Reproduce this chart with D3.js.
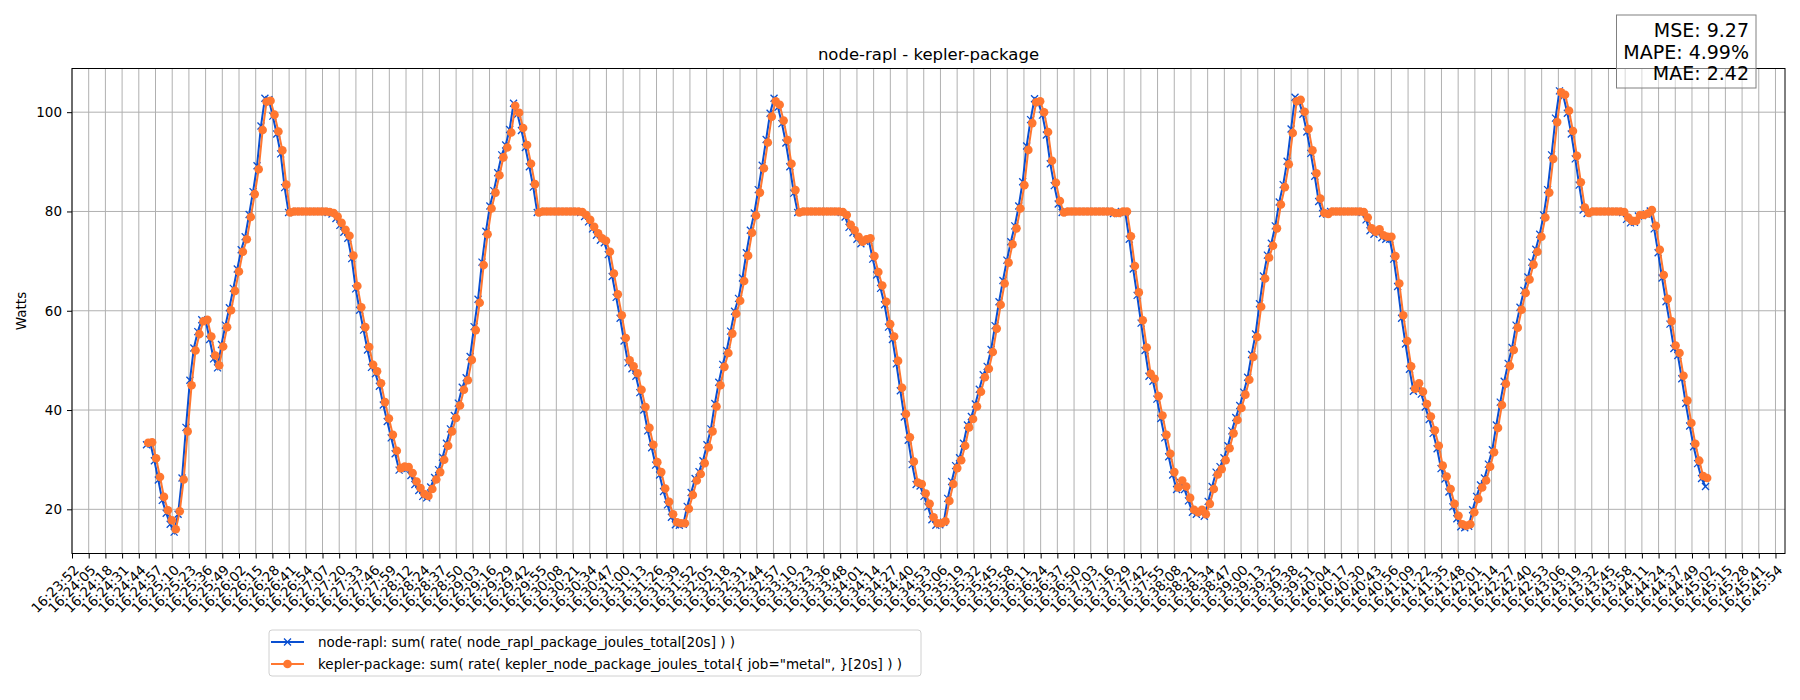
<!DOCTYPE html>
<html>
<head>
<meta charset="utf-8">
<script src="https://cdn.jsdelivr.net/npm/d3@7"></script>
<style>
  body { margin: 0; background: #fff; }
  text { font-family: "DejaVu Sans", sans-serif; }
</style>
</head>
<body>
<svg id="chart" width="1800" height="700"></svg>
<script>
// tick times: 103 labels from 16:23:52 to 16:45:54 (seconds after 16:23:00)
const tickStart = 52.78;
const tickStep = 12.961;
const tickCount = 103;

// sample timing (seconds after 16:23:00)
const sampleStart = 111.9;
const sampleStep = 3.063;
const raplLag = -1.3;

const keplerValues = [
  33.4, 33.5, 30.3, 26.5, 22.5, 19.8, 17.8, 16.0, 19.6, 26.0, 35.7, 45.0, 52.0, 55.3, 57.9, 58.2, 54.8, 51.0, 49.0, 52.8,
  56.7, 60.1, 64.0, 67.9, 71.9, 74.4, 78.9, 83.5, 88.5, 96.4, 102.1, 102.3, 99.5, 96.1, 92.3, 85.4, 79.8,
  80, 80, 80, 80, 80, 80, 80, 80, 80, 79.9,
  79.7, 79.0, 77.7, 76.3, 75.1, 71.1, 65.0, 60.7, 56.7, 52.7, 49.1, 47.8, 45.4, 41.6, 38.3, 35.0, 31.8, 28.3,
  28.6, 28.5, 27.3, 25.6, 24.3, 23.1, 22.7, 24.1, 26.0, 27.5, 30.0, 32.8, 35.7, 38.4, 40.9, 44.1, 46.0, 50.1, 56.1, 61.6,
  69.2, 75.4, 80.6, 83.8, 87.3, 90.9, 92.9, 95.9, 101.3, 99.9, 96.8, 93.4, 89.6, 85.5, 79.8,
  80, 80, 80, 80, 80, 80, 80, 80, 80, 80, 79.9,
  79.3, 78.3, 76.9, 75.6, 74.6, 74.1, 71.9, 67.5, 63.3, 59.1, 54.5, 50.0, 48.8, 47.4, 44.1, 40.6, 36.4, 33.0, 29.5,
  27.5, 24.2, 21.5, 19.0, 17.4, 17.2, 17.2, 20.1, 22.9, 25.8, 27.1, 29.3, 32.5, 35.7, 40.7, 45.0, 48.7, 51.5, 55.4, 59.4,
  62.0, 66.0, 71.1, 75.7, 79.2, 83.8, 88.7, 93.9, 99.1, 102.2, 101.5, 98.3, 94.4, 89.6, 84.3, 79.8,
  80, 80, 80, 80, 80, 80, 80, 80, 80, 80, 79.9,
  79.3, 77.3, 76.2, 74.9, 73.9, 74.4, 74.6, 71.0, 67.8, 65.1, 61.8, 57.3, 54.8, 49.9, 44.5, 39.2, 34.5, 29.6, 25.4, 25.1,
  23.2, 21.1, 18.4, 17.2, 17.2, 17.6, 21.7, 25.1, 28.3, 29.9, 32.8, 36.5, 38.2, 40.7, 43.7, 46.6, 48.3, 51.7, 56.4, 61.2,
  65.5, 69.7, 73.4, 76.6, 80.6, 85.3, 92.4, 97.8, 102.0, 102.2, 100.0, 96.0, 90.2, 85.8, 82.1, 79.8,
  80, 80, 80, 80, 80, 80, 80, 80, 80, 80, 80, 80, 79.7, 79.7, 80, 80,
  75.0, 69.0, 63.7, 58.1, 52.6, 47.3, 46.3, 42.8, 38.9, 35.0, 31.2, 27.5, 24.4, 25.8,
  24.6, 22.3, 19.9, 19.4, 19.9, 19.0, 21.1, 24.1, 27.0, 28.1, 29.9, 32.3, 35.3, 38.0, 40.4, 43.1, 46.1, 50.7, 54.7, 60.8,
  66.5, 70.7, 73.1, 76.6, 81.4, 84.9, 89.5, 95.8, 102.2, 102.5, 100.1, 96.6, 92.3, 87.7, 82.6, 79.7, 79.5,
  80, 80, 80, 80, 80, 80, 80, 80, 79.9,
  78.8, 76.6, 75.9, 76.4, 75.2, 74.9, 74.9, 71.0, 65.5, 59.1, 53.9, 48.8, 44.3, 45.4, 43.7, 41.2, 38.7, 35.9, 32.8, 28.8, 26.6,
  24.1, 21.1, 18.7, 17.0, 16.7, 17.0, 19.4, 22.1, 24.4, 25.8, 28.6, 31.5, 36.4, 41.0, 45.3, 48.9, 52.1, 56.6, 60.2, 63.6,
  66.3, 69.3, 71.9, 74.9, 78.8, 83.8, 90.6, 98.0, 104.0, 103.5, 100.3, 96.2, 91.2, 85.9, 80.8, 79.7,
  80, 80, 80, 80, 80, 80, 80, 80, 79.9,
  78.8, 78.1, 78.1, 79.3, 79.3, 79.6, 80.3, 77.1, 72.3, 67.2, 62.4, 57.9, 53.0, 51.5, 46.9, 41.9, 37.4, 33.2, 29.8, 26.7, 26.3
];

const raplValues = [
  33.0, 33.2, 29.8, 25.9, 21.8, 19.2, 17.0, 15.4, 19.0, 26.3, 36.5, 46.0, 52.5, 55.8, 58.2, 58.0, 54.2, 50.3, 48.5, 53.2,
  57.1, 60.6, 64.5, 68.4, 72.3, 74.9, 79.4, 84.0, 89.2, 97.2, 102.8, 102.5, 99.2, 95.6, 91.6, 84.8, 79.8,
  80, 80, 80, 80, 80, 80, 80, 80, 80, 79.8,
  79.5, 78.6, 77.2, 75.8, 74.6, 70.5, 64.4, 60.1, 56.1, 52.1, 48.6, 47.3, 44.8, 41.0, 37.7, 34.4, 31.2, 27.9,
  28.3, 28.2, 26.8, 25.0, 23.8, 22.6, 22.3, 24.5, 26.4, 28.0, 30.5, 33.3, 36.2, 38.9, 41.4, 44.6, 46.5, 50.8, 56.8, 62.3,
  69.8, 76.0, 81.1, 84.2, 87.8, 91.4, 93.4, 96.5, 101.8, 99.6, 96.3, 92.9, 89.0, 84.9, 79.8,
  80, 80, 80, 80, 80, 80, 80, 80, 80, 80, 79.8,
  79.0, 77.9, 76.5, 75.2, 74.2, 73.7, 71.3, 66.9, 62.7, 58.5, 53.9, 49.5, 48.3, 46.8, 43.5, 40.0, 35.8, 32.4, 28.9,
  26.9, 23.6, 20.9, 18.4, 16.9, 16.8, 17.0, 20.6, 23.4, 26.2, 27.6, 29.8, 33.0, 36.2, 41.3, 45.6, 49.2, 52.0, 55.9, 59.9,
  62.5, 66.6, 71.7, 76.2, 79.7, 84.4, 89.3, 94.5, 99.8, 102.8, 101.0, 97.7, 93.8, 89.0, 83.7, 79.8,
  80, 80, 80, 80, 80, 80, 80, 80, 80, 80, 79.8,
  78.9, 76.8, 75.7, 74.4, 73.5, 74.0, 74.2, 70.4, 67.2, 64.5, 61.2, 56.7, 54.2, 49.3, 43.9, 38.6, 33.9, 29.0, 25.0, 24.7,
  22.6, 20.5, 17.9, 16.8, 16.9, 17.4, 22.2, 25.6, 28.8, 30.4, 33.3, 37.0, 38.7, 41.2, 44.2, 47.1, 48.8, 52.2, 57.0, 61.8,
  66.1, 70.2, 73.9, 77.1, 81.1, 86.0, 93.2, 98.5, 102.7, 101.8, 99.4, 95.4, 89.6, 85.2, 81.5, 79.8,
  80, 80, 80, 80, 80, 80, 80, 80, 80, 80, 80, 80, 79.6, 79.6, 80, 79.8,
  74.4, 68.4, 63.1, 57.5, 52.0, 46.8, 45.8, 42.2, 38.3, 34.4, 30.6, 26.9, 24.0, 25.4,
  24.0, 21.7, 19.4, 19.0, 19.5, 18.6, 21.6, 24.6, 27.5, 28.6, 30.4, 32.8, 35.8, 38.5, 40.9, 43.6, 46.6, 51.2, 55.3, 61.4,
  67.0, 71.2, 73.6, 77.1, 81.9, 85.4, 90.1, 96.6, 103.0, 102.2, 99.6, 96.0, 91.7, 87.1, 82.0, 79.6, 79.5,
  80, 80, 80, 80, 80, 80, 80, 80, 79.8,
  78.3, 76.1, 75.4, 76.0, 74.7, 74.4, 74.4, 70.4, 64.9, 58.5, 53.3, 48.2, 43.8, 45.0, 43.2, 40.6, 38.1, 35.3, 32.2, 28.2, 26.1,
  23.5, 20.5, 18.1, 16.5, 16.3, 16.6, 19.9, 22.6, 24.9, 26.3, 29.1, 32.0, 37.0, 41.6, 45.8, 49.4, 52.6, 57.1, 60.7, 64.1,
  66.8, 69.8, 72.4, 75.4, 79.3, 84.4, 91.4, 98.8, 104.3, 103.2, 99.8, 95.6, 90.6, 85.3, 80.3, 79.6,
  80, 80, 80, 80, 80, 80, 80, 80, 79.8,
  78.4, 77.7, 77.8, 79.1, 79.2, 79.5, 80.1, 76.5, 71.7, 66.6, 61.8, 57.3, 52.4, 51.0, 46.3, 41.3, 36.8, 32.6, 29.2, 26.2, 24.6
];

const titleText = 'node-rapl - kepler-package';
const yLabel = 'Watts';
const yTicks = [20, 40, 60, 80, 100];
const legendLabels = [
  'node-rapl: sum( rate( node_rapl_package_joules_total[20s] ) )',
  'kepler-package: sum( rate( kepler_node_package_joules_total{ job="metal", }[20s] ) )'
];
const metricLines = ['MSE: 9.27', 'MAPE: 4.99%', 'MAE: 2.42'];

const blue = '#0a4fd1';
const orange = '#ff7730';

const base = new Date(2024, 0, 1, 16, 23, 0).getTime();
const at = s => new Date(base + s * 1000);

const tickTimes = d3.range(tickCount).map(i => at(tickStart + i * tickStep));
const keplerData = keplerValues.map((v, i) => ({ t: at(sampleStart + i * sampleStep), v }));
const raplData = raplValues.map((v, i) => ({ t: at(sampleStart + raplLag + i * sampleStep), v }));

const plotLeft = 72, plotRight = 1785, plotTop = 68.5, plotBottom = 553.5;

const svg = d3.select('#chart');

const x = d3.scaleTime()
    .domain([at(tickStart), at(tickStart + 102.57 * tickStep)])
    .range([plotLeft, plotRight]);
const y = d3.scaleLinear()
    .domain([11.1, 108.8])
    .range([plotBottom, plotTop]);

// Grid
const grid = svg.append('g');
grid.selectAll('.vgrid').data(tickTimes).enter().append('line')
    .attr('x1', d => x(d)).attr('x2', d => x(d))
    .attr('y1', plotTop).attr('y2', plotBottom)
    .attr('stroke', '#b0b0b0').attr('stroke-width', 1);
grid.selectAll('.hgrid').data(yTicks).enter().append('line')
    .attr('x1', plotLeft).attr('x2', plotRight)
    .attr('y1', d => y(d)).attr('y2', d => y(d))
    .attr('stroke', '#b0b0b0').attr('stroke-width', 1);

// Axes
const fmt = d3.timeFormat('%H:%M:%S');
const xAxis = svg.append('g')
    .attr('transform', `translate(0,${plotBottom})`)
    .call(d3.axisBottom(x).tickValues(tickTimes).tickFormat(fmt).tickSize(5).tickPadding(4));
xAxis.select('.domain').remove();
xAxis.selectAll('text')
    .style('font-size', '13.5px')
    .attr('fill', '#000')
    .attr('text-anchor', 'end')
    .attr('y', 0)
    .attr('dy', '0.35em')
    .attr('transform', 'translate(4,14) rotate(-45)');

const yAxis = svg.append('g')
    .attr('transform', `translate(${plotLeft},0)`)
    .call(d3.axisLeft(y).tickValues(yTicks).tickSize(5).tickPadding(5));
yAxis.select('.domain').remove();
yAxis.selectAll('text').style('font-size', '13.5px').attr('fill', '#000');

// Lines
const line = d3.line().x(d => x(d.t)).y(d => y(d.v));

svg.append('path').datum(raplData)
    .attr('fill', 'none').attr('stroke', blue).attr('stroke-width', 2)
    .attr('d', line);
svg.append('g').selectAll('path').data(raplData).enter().append('path')
    .attr('transform', d => `translate(${x(d.t)},${y(d.v)})`)
    .attr('d', 'M-3.5,-3.5L3.5,3.5M-3.5,3.5L3.5,-3.5')
    .attr('stroke', blue).attr('stroke-width', 1.3);

svg.append('path').datum(keplerData)
    .attr('fill', 'none').attr('stroke', orange).attr('stroke-width', 2)
    .attr('d', line);
svg.append('g').selectAll('circle').data(keplerData).enter().append('circle')
    .attr('cx', d => x(d.t)).attr('cy', d => y(d.v))
    .attr('r', 4.3).attr('fill', orange);

// Frame
svg.append('rect')
    .attr('x', plotLeft).attr('y', plotTop)
    .attr('width', plotRight - plotLeft).attr('height', plotBottom - plotTop)
    .attr('fill', 'none').attr('stroke', '#000').attr('stroke-width', 1);

// Title and label
svg.append('text')
    .attr('x', (plotLeft + plotRight) / 2).attr('y', 60)
    .attr('text-anchor', 'middle')
    .style('font-size', '16.5px')
    .text(titleText);
svg.append('text')
    .attr('transform', `translate(26,${(plotTop + plotBottom) / 2}) rotate(-90)`)
    .attr('text-anchor', 'middle')
    .style('font-size', '13.5px')
    .text(yLabel);

// Metrics box
svg.append('rect')
    .attr('x', 1616.5).attr('y', 15)
    .attr('width', 139.5).attr('height', 73)
    .attr('fill', 'rgba(255,255,255,0.5)')
    .attr('stroke', '#808080').attr('stroke-width', 1);
svg.append('g').selectAll('text').data(metricLines).enter().append('text')
    .attr('x', 1749).attr('y', (d, i) => 37 + i * 21.7)
    .attr('text-anchor', 'end')
    .style('font-size', '19px')
    .text(d => d);

// Legend
const legend = svg.append('g').attr('transform', 'translate(269,630)');
legend.append('rect')
    .attr('width', 652).attr('height', 46).attr('rx', 3)
    .attr('fill', '#fff').attr('stroke', '#d0d0d0');
const rows = legend.selectAll('g.row').data(legendLabels).enter().append('g')
    .attr('transform', (d, i) => `translate(0,${12 + i * 22})`);
rows.append('line')
    .attr('x1', 2).attr('x2', 35).attr('y1', 0).attr('y2', 0)
    .attr('stroke', (d, i) => i === 0 ? blue : orange).attr('stroke-width', 2);
rows.filter((d, i) => i === 0).append('path')
    .attr('d', 'M15,-3.5L22,3.5M15,3.5L22,-3.5')
    .attr('stroke', blue).attr('stroke-width', 1.3);
rows.filter((d, i) => i === 1).append('circle')
    .attr('cx', 18.5).attr('cy', 0).attr('r', 4.3).attr('fill', orange);
rows.append('text')
    .attr('x', 49).attr('y', 0).attr('dy', '0.35em')
    .style('font-size', '13.5px')
    .text(d => d);
</script>
</body>
</html>
